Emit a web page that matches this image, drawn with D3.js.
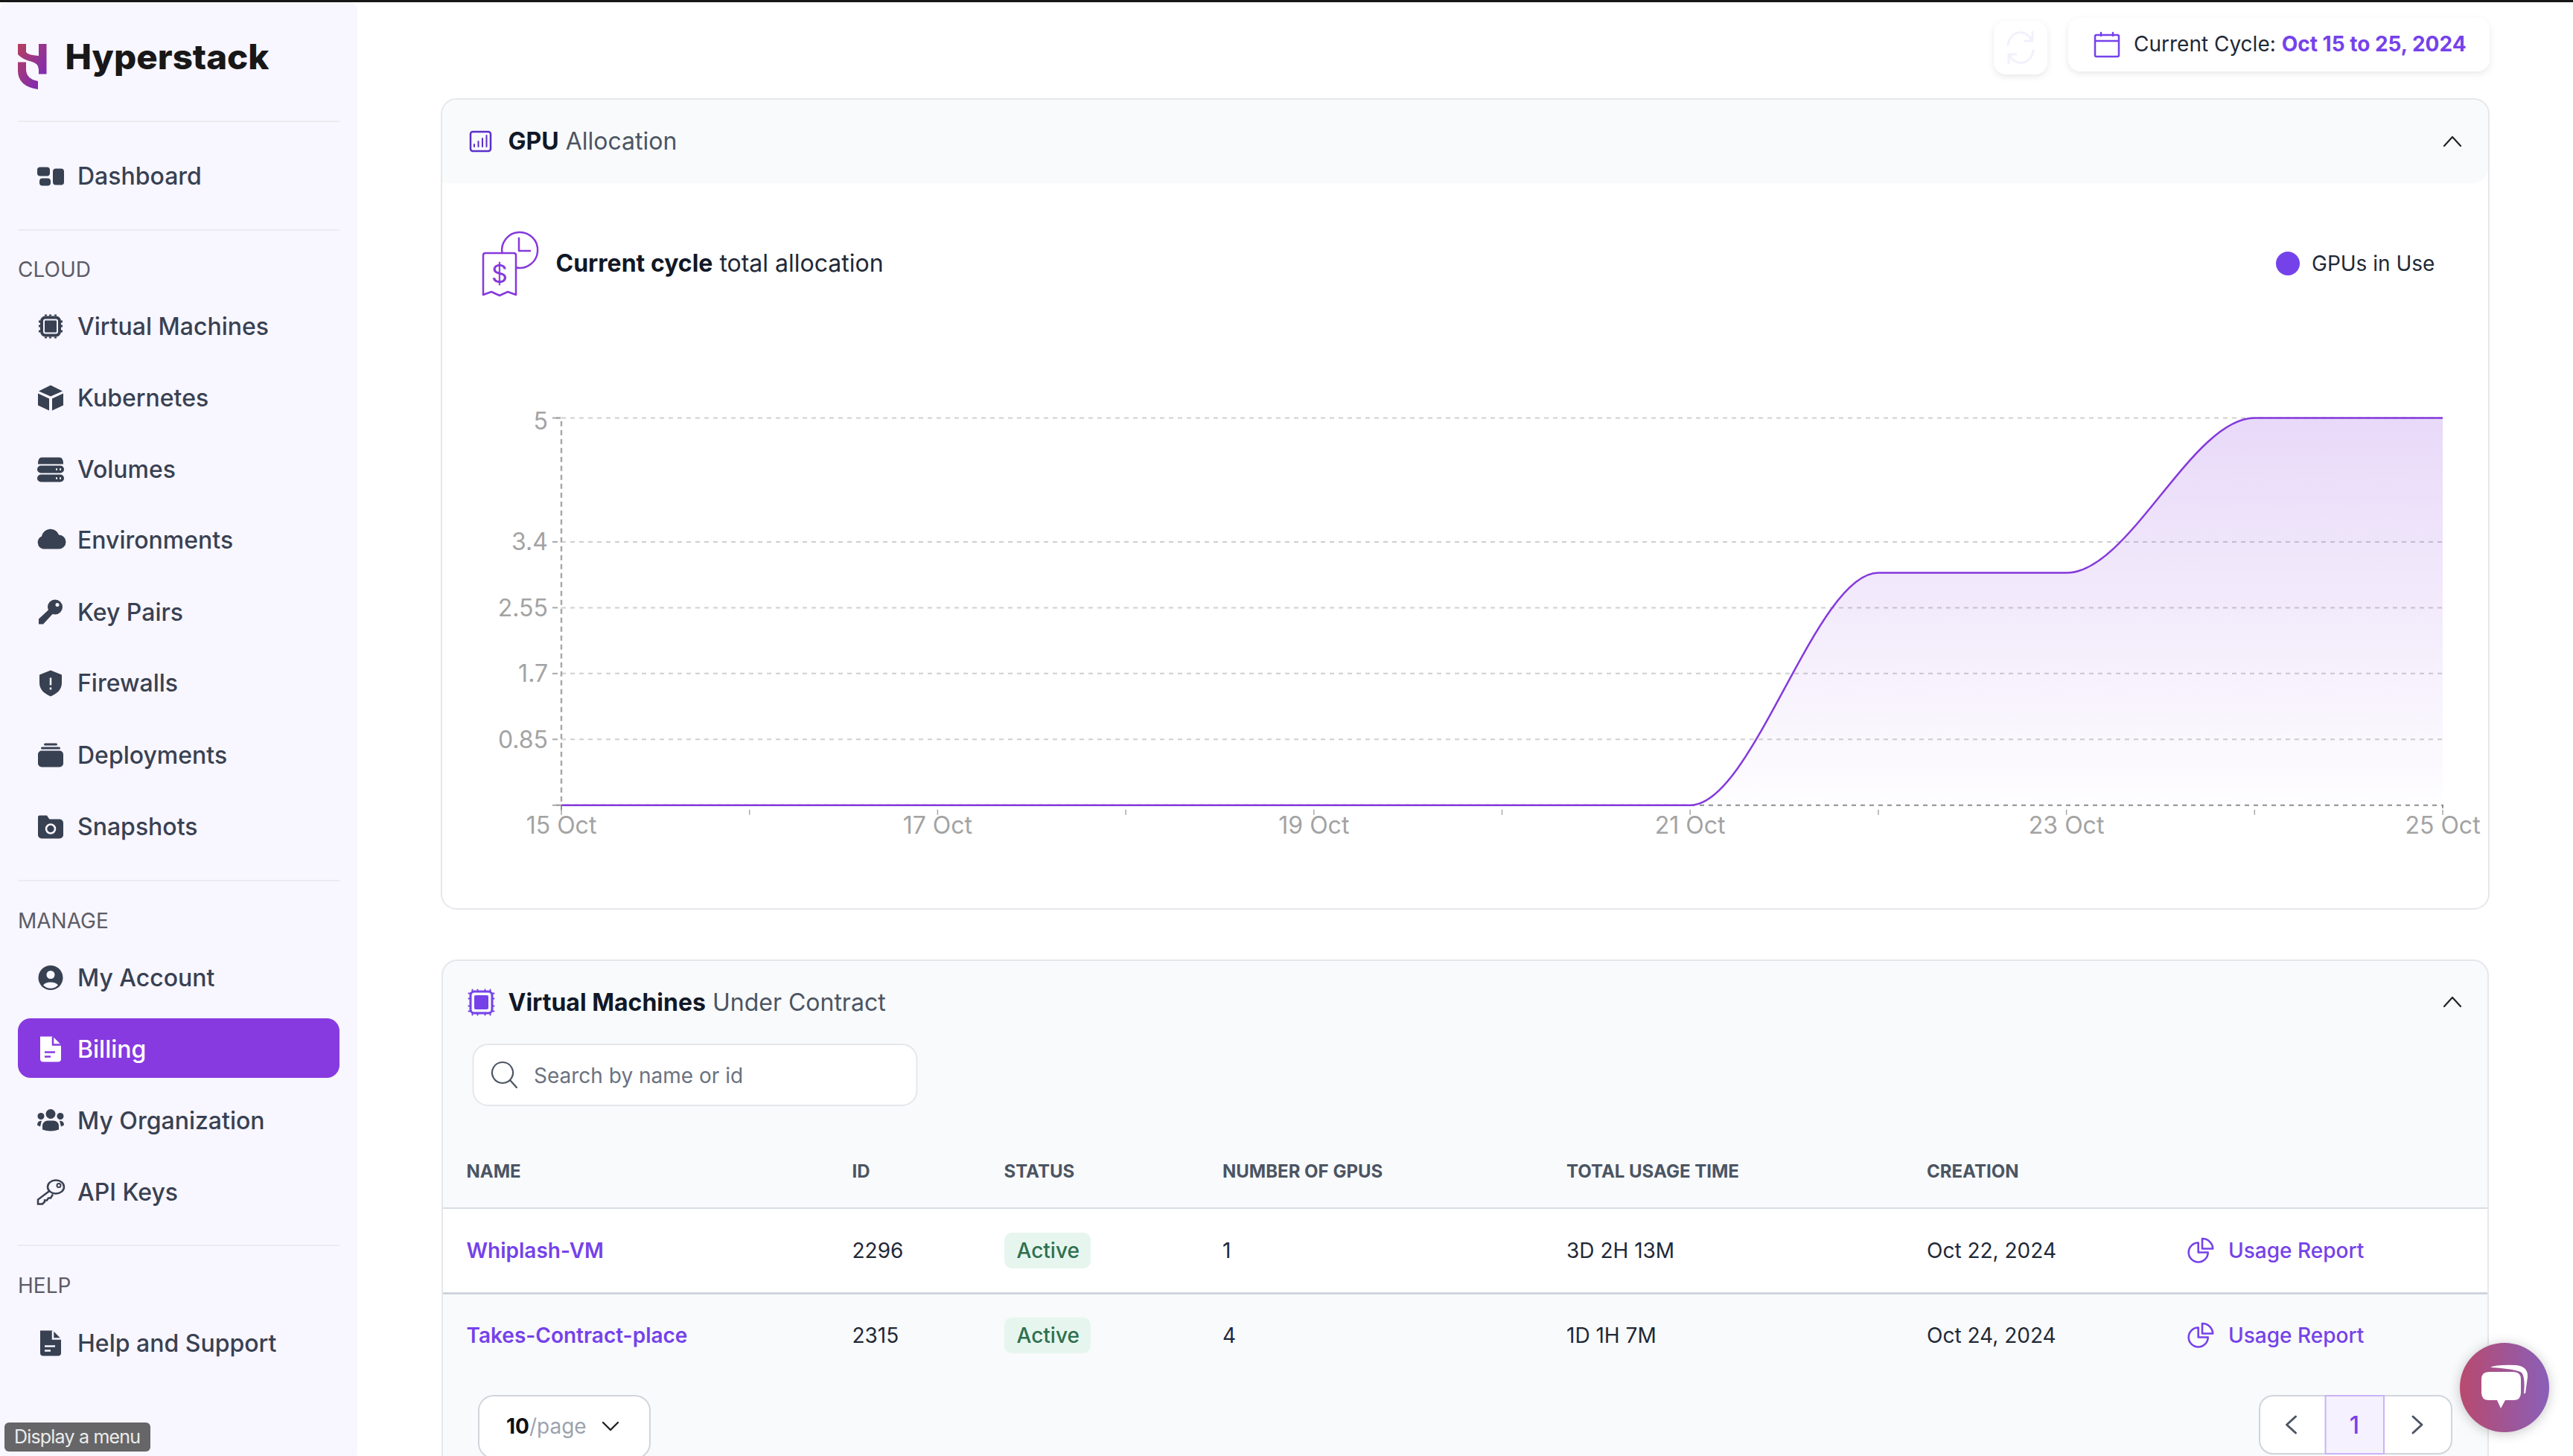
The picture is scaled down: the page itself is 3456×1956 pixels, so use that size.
<!DOCTYPE html>
<html>
<head>
<meta charset="utf-8">
<title>GPU Allocation</title>
<script src="https://cdn.jsdelivr.net/npm/d3@7"></script>
<style>
	html, body { margin: 0; padding: 0; background: #fff; overflow: hidden; }
	svg { display: block; }
	text { font-family: Inter, "Noto Sans", sans-serif; }
</style>
</head>
<body>
<div id="page"></div>
<script>
// chart data
let days = ["2024-10-15", "2024-10-16", "2024-10-17", "2024-10-18", "2024-10-19", "2024-10-20", "2024-10-21", "2024-10-22", "2024-10-23", "2024-10-24", "2024-10-25"];
let gpusInUse = [0, 0, 0, 0, 0, 0, 0, 3, 3, 5, 5];
let yTicks = [0, 0.85, 1.7, 2.55, 3.4, 5];
let xLabels = ["15 Oct", "", "17 Oct", "", "19 Oct", "", "21 Oct", "", "23 Oct", "", "25 Oct"];

// page text
let cloudItems = ["Virtual Machines", "Kubernetes", "Volumes", "Environments", "Key Pairs", "Firewalls", "Deployments", "Snapshots"];
let cloudIcons = ["chip", "cube", "volumes", "cloud", "key", "shield", "deploy", "snapshot"];
let manageItems = ["My Account", "Billing", "My Organization", "API Keys"];
let manageIcons = ["account", "file", "org", "apikey"];
let tableHeads = ["NAME", "ID", "STATUS", "NUMBER OF GPUS", "TOTAL USAGE TIME", "CREATION"];
let vmNames = ["Whiplash-VM", "Takes-Contract-place"];
let vmIds = ["2296", "2315"];
let vmGpus = ["1", "4"];
let vmUsage = ["3D 2H 13M", "1D 1H 7M"];
let vmCreated = ["Oct 22, 2024", "Oct 24, 2024"];

let purple = "#7542ea";
let violet = "#8539dc";
let ink = "#111827";
let slate = "#384152";

let svg = d3.select("#page")
	.append("svg")
	.attr("width", 3456)
	.attr("height", 1956);

let defs = svg.append("defs");

function gradient(id, x1, y1, x2, y2, stops, units) {
	let g = defs.append("linearGradient")
		.attr("id", id)
		.attr("x1", x1).attr("y1", y1)
		.attr("x2", x2).attr("y2", y2);
	if (units) g.attr("gradientUnits", units);
	stops.forEach(s => {
		g.append("stop")
			.attr("offset", s[0])
			.attr("stop-color", s[1])
			.attr("stop-opacity", s[2] === undefined ? 1 : s[2]);
	});
}

function box(x, y, w, h, r, fill, stroke, sw) {
	return svg.append("rect")
		.attr("x", x).attr("y", y)
		.attr("width", w).attr("height", h)
		.attr("rx", r)
		.attr("fill", fill)
		.attr("stroke", stroke || "none")
		.attr("stroke-width", sw || 0);
}

function label(x, y, str, size, weight, fill, parent) {
	return (parent || svg).append("text")
		.attr("x", x).attr("y", y)
		.attr("font-size", size)
		.attr("font-weight", weight)
		.attr("fill", fill)
		.text(str);
}

function twoTone(x, y, size, a, aFill, b, bFill) {
	let t = label(x, y, "", size, 400, bFill);
	t.append("tspan").attr("font-weight", 700).attr("fill", aFill).text(a);
	t.append("tspan").attr("fill", bFill).text(" " + b);
	return t;
}

function stroked(x, y, d, color, width) {
	return svg.append("path")
		.attr("transform", `translate(${x},${y})`)
		.attr("d", d)
		.attr("fill", "none")
		.attr("stroke", color)
		.attr("stroke-width", width)
		.attr("stroke-linecap", "round")
		.attr("stroke-linejoin", "round");
}

// sidebar icons, drawn around 0,0
function navIcon(name, cx, cy, color, back) {
	let g = svg.append("g")
		.attr("transform", `translate(${cx},${cy})`)
		.attr("fill", color);
	let path = d => g.append("path").attr("d", d);
	let rect = (x, y, w, h, r) => g.append("rect").attr("x", x).attr("y", y).attr("width", w).attr("height", h).attr("rx", r);
	let hole = d => g.append("path").attr("d", d).attr("fill", "none").attr("stroke", back).attr("stroke-width", 2.5);

	if (name == "dashboard") {
		rect(-18, -12, 17, 12, 4);
		rect(-15, 3, 15, 10, 4);
		rect(3, -10, 15, 22, 4);
	} else if (name == "chip") {
		rect(-12, -12, 24, 24, 5).attr("fill", "none").attr("stroke", color).attr("stroke-width", 4);
		rect(-8, -8, 16, 16, 1);
		path("M-16,-8h2v3h-2zM-16,-2h2v3h-2zM-16,5h2v3h-2zM14,-8h2v3h-2zM14,-2h2v3h-2zM14,5h2v3h-2zM-8,-16h3v2h-3zM-2,-16h3v2h-3zM5,-16h3v2h-3zM-8,14h3v2h-3zM-2,14h3v2h-3zM5,14h3v2h-3z");
	} else if (name == "cube") {
		path("M0,-17L16,-9L0,-2L-16,-9Z");
		path("M-17,-6L-2,1V17L-17,10Z");
		path("M17,-6L2,1V17L17,10Z");
	} else if (name == "volumes") {
		path("M-12,-16H12Q17,-16 17,-7H-17Q-17,-16 -12,-16Z");
		rect(-18, -5, 36, 10, 5);
		rect(-18, 7, 36, 10, 5);
		hole("M7,0h2M12,0h2M7,12h2M12,12h2");
	} else if (name == "cloud") {
		path("M-10,12A9,9 0 0 1 -12,-5A12,12 0 0 1 11,-7A9.5,9.5 0 0 1 11,12Z");
	} else if (name == "key") {
		g.append("circle").attr("cx", 6).attr("cy", -7).attr("r", 10);
		path("M-2,-4L3,2L-10,16H-16V9Z");
		g.append("circle").attr("cx", 9).attr("cy", -10).attr("r", 2.5).attr("fill", back);
	} else if (name == "shield") {
		path("M0,-17L15,-11V0C15,10 7,15 0,18C-7,15 -15,10 -15,0V-11Z");
		hole("M0,-7V3M0,6V9");
	} else if (name == "deploy") {
		rect(-17, -6, 34, 22, 5);
		rect(-13, -11, 26, 3, 1.5);
		rect(-9, -16, 18, 3, 1.5);
	} else if (name == "snapshot") {
		rect(-17, -10, 34, 26, 5);
		path("M-17,-6V-13Q-17,-15 -15,-15H-5L-1,-9Z");
		g.append("circle").attr("cx", 0).attr("cy", 3).attr("r", 6).attr("fill", "none").attr("stroke", back).attr("stroke-width", 2.5);
	} else if (name == "account") {
		g.append("circle").attr("r", 16.5);
		g.append("circle").attr("cy", -4).attr("r", 5.5).attr("fill", back);
		path("M-10,10A11,7 0 0 1 10,10A14,14 0 0 1 -10,10Z").attr("fill", back);
	} else if (name == "file") {
		path("M-14,-17H3L14,-6V13A4,4 0 0 1 10,17H-10A4,4 0 0 1 -14,13Z");
		hole("M3,-17V-6H14M-8,4H6M-8,10H0");
	} else if (name == "org") {
		g.append("circle").attr("cy", -9).attr("r", 6.5);
		g.append("circle").attr("cx", -13).attr("cy", -6).attr("r", 4.5);
		g.append("circle").attr("cx", 13).attr("cy", -6).attr("r", 4.5);
		path("M-11,12V7A7,7 0 0 1 -4,0H4A7,7 0 0 1 11,7V12Q0,16 -11,12Z");
		path("M-18,6Q-18,0 -12,0L-14,8Z");
		path("M18,6Q18,0 12,0L14,8Z");
	} else if (name == "apikey") {
		g.append("ellipse").attr("cx", 7).attr("cy", -7).attr("rx", 11).attr("ry", 9)
			.attr("fill", "none").attr("stroke", color).attr("stroke-width", 2.5);
		g.append("circle").attr("cx", 11).attr("cy", -9).attr("r", 2.5)
			.attr("fill", "none").attr("stroke", color).attr("stroke-width", 2);
		g.append("path").attr("d", "M-1,-2L-17,10V16H-11L-8,13V11H-5L-3,8H0L3,3")
			.attr("fill", "none").attr("stroke", color).attr("stroke-width", 2.5);
	}
}

function navRow(name, icon, y, color, back) {
	navIcon(icon, 68, y - 11.5, color || slate, back || "#f8f6ff");
	label(104, y, name, 32, 500, color || slate);
}

// top bar and sidebar
box(0, 3, 480, 1960, 12, "#f8f6ff");
svg.append("rect").attr("width", 3456).attr("height", 3).attr("fill", "#161616");

gradient("logoFill", 0, 0, 1, 1, [[0, "#b5405f"], [1, "#7527c4"]]);
svg.append("path")
	.attr("d", "M24,59H35V70Q37,74 52,75V59H62.5V99.5H52V93Q51,85 43,83Q30,80 24,73ZM24,83.5H35V93Q35,106 51,109V120Q24,116 24,95Z")
	.attr("fill", "url(#logoFill)");
label(87.5, 92.5, "Hyperstack", 46, 800, "#181818")
	.attr("textLength", 274)
	.attr("lengthAdjust", "spacingAndGlyphs");

[163, 309, 1183, 1673].forEach(y => {
	box(24, y - 1, 432, 2, 0, "#ebebf0");
});

navRow("Dashboard", "dashboard", 248);

label(24, 371.5, "CLOUD", 28, 400, "#5c5c66");
let cloudY = [450, 546, 642, 737, 834, 929, 1026, 1122];
cloudItems.forEach((name, i) => navRow(name, cloudIcons[i], cloudY[i]));

label(24, 1247, "MANAGE", 28, 400, "#5c5c66");
let manageY = [1325, 1421, 1517, 1613];
box(24, 1368, 432, 80, 17, "#873ae0");
manageItems.forEach((name, i) => {
	if (name == "Billing") navRow(name, manageIcons[i], manageY[i], "#ffffff", "#873ae0");
	else navRow(name, manageIcons[i], manageY[i]);
});

label(24, 1737, "HELP", 28, 400, "#5c5c66");
navRow("Help and Support", "file", 1816);

box(6, 1911, 196, 39, 6, "#666669");
label(19, 1939, "Display a menu", 25, 400, "#ececec").attr("textLength", 170);

// top right buttons
box(2678, 28, 72, 72, 16, "#ffffff").style("filter", "drop-shadow(0 3px 4px rgba(0,0,0,0.09))");
stroked(2714, 64, "M-17,-4A17,19 0 0 1 15,-10M16,-21V-9H6M17,4A17,19 0 0 1 -15,10M-16,21V9H-6", "#f3f0fd", 3);
box(2778, 24, 566, 72, 16, "#ffffff").style("filter", "drop-shadow(0 3px 4px rgba(0,0,0,0.09))");
stroked(2813, 44, "M1,5Q1,3 3,3H31Q33,3 33,5V30Q33,32 31,32H3Q1,32 1,30ZM1,11H33M9,0V4M25,0V4", purple, 2.5);
let cycle = label(2866, 69, "Current Cycle: ", 28, 400, "#1f2937");
cycle.append("tspan").attr("font-weight", 650).attr("fill", purple).text("Oct 15 to 25, 2024");

// GPU allocation card
box(593, 133, 2750, 1088, 20, "#ffffff", "#e5e7eb", 2);
svg.append("path")
	.attr("d", "M594,246V154A20,20 0 0 1 614,134H3322A20,20 0 0 1 3342,154V226A20,20 0 0 1 3322,246Z")
	.attr("fill", "#f9fafb");
box(632, 177, 27, 26, 3, "none", "#5b30c9", 2.5);
stroked(637, 197, "M0,0V-3M5.5,0V-7M11,0V-11M16.5,0V-15", "#5b30c9", 2);
twoTone(682.5, 200.5, 32, "GPU", ink, "Allocation", "#4b5563");
stroked(3294, 190, "M-11,6L0,-6L11,6", "#222", 2.2);

// receipt and clock icon
stroked(649, 340, "M3,0H41Q44,0 44,3V56L33,52L22,57L11,52L0,56V3Q0,0 3,0Z", violet, 2.5);
stroked(674.5, 340, "M0,0A24,24 0 1 1 19,19.5", violet, 2.5);
stroked(697, 320, "M0,0V17H15", violet, 2.5);
label(671, 380, "$", 34, 400, violet).attr("text-anchor", "middle");
twoTone(746.5, 365, 32, "Current cycle", ink, "total allocation", "#1f2937");

// legend
svg.append("circle").attr("cx", 3073).attr("cy", 354).attr("r", 16).attr("fill", purple);
label(3105, 363.5, "GPUs in Use", 28, 400, "#1f2937");

// chart
let parseDay = d3.utcParse("%Y-%m-%d");
let dates = days.map(parseDay);

let margin = { top: 561.5, left: 754, right: 175, bottom: 874.3 };
let width = 3456 - margin.left - margin.right;
let height = 1956 - margin.top - margin.bottom;

let chartGroup = svg.append("g")
	.attr("transform", `translate(${margin.left}, ${margin.top})`);

let xScale = d3.scaleUtc()
	.domain(d3.extent(dates))
	.range([0, width]);

let yScale = d3.scaleLinear()
	.domain([0, d3.max(yTicks)])
	.range([height, 0]);

// horizontal grid
let grid = chartGroup.append("g")
	.call(d3.axisLeft(yScale).tickValues(yTicks.slice(1)).tickSize(-width).tickFormat("").offset(0));
grid.select(".domain").remove();
grid.selectAll("line")
	.attr("stroke", "#cfcfcf")
	.attr("stroke-width", 2)
	.attr("stroke-dasharray", "6 6");

// y axis
let yAxis = chartGroup.append("g")
	.call(d3.axisLeft(yScale)
		.tickValues(yTicks)
		.tickSizeOuter(0)
		.tickSize(7)
		.tickPadding(11)
		.tickFormat(d => d == 0 ? "" : String(d))
		.offset(0));
yAxis.select(".domain")
	.attr("stroke", "#a8a8a8")
	.attr("stroke-width", 2.5)
	.attr("stroke-dasharray", "7 5");
yAxis.selectAll(".tick line")
	.attr("transform", "translate(-5,0)")
	.attr("stroke", "#a8a8a8")
	.attr("stroke-width", 2);
yAxis.selectAll("text")
	.attr("font-family", "Inter")
	.attr("font-size", 32)
	.attr("fill", "#a3a3a3")
	.attr("dy", d => d == d3.max(yTicks) ? "0.47em" : "0.36em");

// x axis
let xAxis = chartGroup.append("g")
	.attr("transform", `translate(0, ${height})`)
	.call(d3.axisBottom(xScale)
		.tickValues(dates)
		.tickSizeOuter(0)
		.tickSize(7)
		.tickPadding(9)
		.tickFormat((d, i) => xLabels[i])
		.offset(0));
xAxis.select(".domain")
	.attr("stroke", "#8f8f8f")
	.attr("stroke-width", 2)
	.attr("stroke-dasharray", "6 6");
xAxis.selectAll(".tick line")
	.attr("transform", "translate(0,6)")
	.attr("stroke", "#a8a8a8")
	.attr("stroke-width", 1.5);
xAxis.selectAll("text")
	.attr("font-family", "Inter")
	.attr("font-size", 32)
	.attr("fill", "#a3a3a3");

// area and line
gradient("gpuFill", 0, yScale(5), 0, yScale(0), [[0, violet, 0.19], [1, violet, 0.01]], "userSpaceOnUse");

let gpuArea = d3.area()
	.x((d, i) => xScale(dates[i]))
	.y0(yScale(0))
	.y1(d => yScale(d))
	.curve(d3.curveMonotoneX);

let gpuLine = d3.line()
	.x((d, i) => xScale(dates[i]))
	.y(d => yScale(d))
	.curve(d3.curveMonotoneX);

chartGroup.append("path")
	.datum(gpusInUse)
	.attr("d", gpuArea)
	.attr("fill", "url(#gpuFill)");

chartGroup.append("path")
	.datum(gpusInUse)
	.attr("d", gpuLine)
	.attr("fill", "none")
	.attr("stroke", violet)
	.attr("stroke-width", 2.5);

// virtual machines card
svg.append("path")
	.attr("d", "M594,1990V1310A20,20 0 0 1 614,1290H3322A20,20 0 0 1 3342,1310V1990Z")
	.attr("fill", "#f9fafb")
	.attr("stroke", "#e5e7eb")
	.attr("stroke-width", 2);
box(595, 1623, 2746, 114, 0, "#ffffff");
box(595, 1622, 2746, 2, 0, "#d8dee6");
box(595, 1736, 2746, 3, 0, "#cfd4de");

box(632, 1332, 29, 29, 5, "none", purple, 3);
box(637, 1337, 19, 19, 2, purple);
stroked(646.5, 1346.5, "M-12,-17V-15M-5,-17V-15M5,-17V-15M12,-17V-15M-12,15V17M-5,15V17M5,15V17M12,15V17M-17,-12H-15M-17,-5H-15M-17,5H-15M-17,12H-15M15,-12H17M15,-5H17M15,5H17M15,12H17", purple, 2);
twoTone(682.5, 1357.5, 32, "Virtual Machines", ink, "Under Contract", "#4b5563");
stroked(3294, 1346, "M-11,6L0,-6L11,6", "#222", 2.2);

box(635.5, 1403, 596, 82, 20, "#ffffff", "#e5e7eb", 2);
stroked(675, 1441, "M0,-14A14,14 0 1 0 0.01,-14M10,10L19,20", "#4b5563", 2.2);
label(717, 1454.5, "Search by name or id", 28, 400, "#6b7280");

// table
let colX = [626.5, 1144.5, 1348.5, 1642, 2104, 2588];
tableHeads.forEach((h, i) => label(colX[i], 1582, h, 24, 650, "#4b5563"));

let rowBase = [1690, 1804];
vmNames.forEach((name, i) => {
	let y = rowBase[i];
	label(colX[0], y, name, 28, 600, purple);
	label(colX[1], y, vmIds[i], 28, 400, "#1f2937");
	box(1349, y - 34, 116, 48, 10, "#e6f6ee");
	label(1365.5, y, "Active", 28, 500, "#2f6f4f");
	label(colX[3], y, vmGpus[i], 28, 400, "#1f2937");
	label(colX[4], y, vmUsage[i], 28, 400, "#1f2937");
	label(colX[5], y, vmCreated[i], 28, 400, "#1f2937");
	// usage report pie icon
	stroked(2952.7, y - 7.5, "M0,-13A13,13 0 1 0 13,0H0ZM5.3,-18.5V-5H19.5A14,14 0 0 0 5.3,-18.5Z", purple, 2.6);
	label(2993, y, "Usage Report", 28, 500, purple);
});

// pager
box(643, 1875, 230, 84, 20, "#ffffff", "#d1d5db", 2);
let perPage = label(680, 1926, "", 28, 400, "#9ca3af");
perPage.append("tspan").attr("font-weight", 700).attr("fill", "#111").text("10");
perPage.append("tspan").text("/page");
stroked(820, 1916, "M-10,-5L0,5L10,-5", "#222", 2.4);

box(3035, 1875, 258, 78, 18, "#ffffff", "#d1d5db", 2);
box(3123.5, 1875, 78.5, 78, 0, "#f5f1fe", "#c9b3f5", 2);
label(3162.5, 1926, "1", 32, 500, purple).attr("text-anchor", "middle");
stroked(3077.5, 1914, "M6,-11L-6,0L6,11", "#4b5563", 3);
stroked(3247, 1914, "M-6,-11L6,0L-6,11", "#4b5563", 3);

// chat button
gradient("chatFill", 0, 0.5, 1, 0.5, [[0, "#b84a6e"], [1, "#8a5fb8"]]);
svg.append("circle")
	.attr("cx", 3364).attr("cy", 1864).attr("r", 60)
	.attr("fill", "url(#chatFill)")
	.style("filter", "drop-shadow(0 2px 8px rgba(0,0,0,0.22))");
svg.append("path")
	.attr("d", "M3343,1843H3376Q3386,1843 3386,1853V1871Q3386,1881 3376,1881H3365L3359,1892L3354,1881H3343Q3333,1881 3333,1871V1853Q3333,1843 3343,1843Z")
	.attr("fill", "#ffffff");
svg.append("path")
	.attr("d", "M3345,1837Q3352,1833 3380,1834Q3396,1836 3395,1850L3392,1872H3390Q3392,1850 3387,1844Q3380,1839 3345,1837Z")
	.attr("fill", "#ffffff");
</script>
</body>
</html>
